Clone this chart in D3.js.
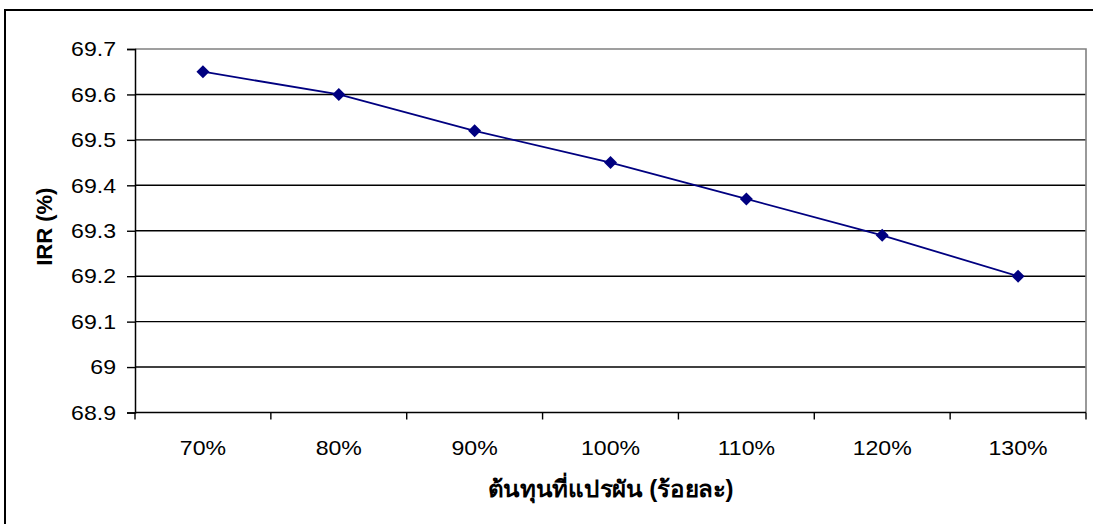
<!DOCTYPE html>
<html>
<head>
<meta charset="utf-8">
<script src="https://cdn.jsdelivr.net/npm/d3@7"></script>
<style>
  html, body { margin: 0; padding: 0; background: #fff; overflow: hidden; }
  svg { display: block; }
  text { font-family: "Liberation Sans", Arial, sans-serif; fill: #000; }
</style>
</head>
<body>
<svg id="chart" width="1093" height="524"></svg>
<script>
// Variable-cost sensitivity: IRR at each cost level
const categories = ["70%", "80%", "90%", "100%", "110%", "120%", "130%"];
const irrValues = [69.65, 69.60, 69.52, 69.45, 69.37, 69.29, 69.20];
const yTicks = [68.9, 69, 69.1, 69.2, 69.3, 69.4, 69.5, 69.6, 69.7];
const xTitle = "ต้นทุนที่แปรผัน (ร้อยละ)";
const yTitle = "IRR (%)";

const svg = d3.select("#chart");
const plot = { left: 135, right: 1086, top: 49, bottom: 412.5 };

// Widen a text element horizontally by a factor, keeping its anchor
function widen(sel, factor) {
  sel.each(function () {
    const w = this.getComputedTextLength();
    d3.select(this)
      .attr("textLength", w * factor)
      .attr("lengthAdjust", "spacingAndGlyphs");
  });
}

// Outer chart frame (top and left edges fall inside the page)
svg.append("path")
  .attr("d", "M1200,10H5V700")
  .attr("fill", "none")
  .attr("stroke", "#000").attr("stroke-width", 2);

const x = d3.scaleBand()
  .domain(categories)
  .range([plot.left, plot.right])
  .paddingInner(0).paddingOuter(0);

const y = d3.scaleLinear()
  .domain([68.9, 69.7])
  .range([plot.bottom, plot.top]);

// Horizontal gridlines
svg.append("g")
  .selectAll("line")
  .data(yTicks.filter(t => t > 68.9 && t < 69.7))
  .join("line")
  .attr("x1", plot.left).attr("x2", plot.right)
  .attr("y1", d => y(d)).attr("y2", d => y(d))
  .attr("stroke", "#000").attr("stroke-width", 1.4);

// Plot-area border (top and right, grey)
svg.append("path")
  .attr("d", `M${plot.left},${y(69.7)}H${plot.right}V${plot.bottom}`)
  .attr("fill", "none")
  .attr("stroke", "#808080").attr("stroke-width", 1.6);

// Y axis
const yAxis = d3.axisLeft(y)
  .tickValues(yTicks)
  .tickFormat(d => d3.format("")(+d.toFixed(1)))
  .tickSize(8).tickPadding(11);
const gy = svg.append("g")
  .attr("transform", `translate(${plot.left},0)`)
  .call(yAxis);
gy.select(".domain").attr("stroke", "#000").attr("stroke-width", 1.5);
gy.selectAll(".tick line").attr("stroke", "#000").attr("stroke-width", 1.4);
gy.selectAll(".tick text")
  .style("font-family", "'Liberation Sans', Arial, sans-serif")
  .style("font-size", "21px").attr("fill", "#000")
  .call(widen, 1.1);

// X axis: ticks sit on category boundaries, labels centred in each band
const boundaries = categories.map(c => x(c)).concat([plot.right]);
const gx = svg.append("g");
gx.append("line")
  .attr("x1", plot.left).attr("x2", plot.right)
  .attr("y1", plot.bottom).attr("y2", plot.bottom)
  .attr("stroke", "#000").attr("stroke-width", 1.5);
gx.selectAll("line.tick")
  .data(boundaries)
  .join("line")
  .attr("class", "tick")
  .attr("x1", d => d).attr("x2", d => d)
  .attr("y1", plot.bottom).attr("y2", plot.bottom + 7)
  .attr("stroke", "#000").attr("stroke-width", 1.4);
gx.selectAll("text")
  .data(categories)
  .join("text")
  .attr("x", d => x(d) + x.bandwidth() / 2)
  .attr("y", 455)
  .attr("text-anchor", "middle")
  .style("font-size", "21px")
  .text(d => d)
  .call(widen, 1.1);

// Series line
const line = d3.line()
  .x((d, i) => x(categories[i]) + x.bandwidth() / 2)
  .y(d => y(d));
svg.append("path")
  .datum(irrValues)
  .attr("d", line)
  .attr("fill", "none")
  .attr("stroke", "#000080").attr("stroke-width", 1.8);

// Diamond markers
const r = 6.5;
svg.append("g")
  .selectAll("path")
  .data(irrValues)
  .join("path")
  .attr("transform", (d, i) => `translate(${x(categories[i]) + x.bandwidth() / 2},${y(d)})`)
  .attr("d", `M0,${-r}L${r},0L0,${r}L${-r},0Z`)
  .attr("fill", "#000080");

// Axis titles
svg.append("text")
  .attr("transform", `translate(52,${(plot.top + plot.bottom) / 2 - 4}) rotate(-90)`)
  .attr("text-anchor", "middle")
  .style("font-size", "22px").style("font-weight", "bold")
  .text(yTitle);

svg.append("text")
  .attr("x", (plot.left + plot.right) / 2)
  .attr("y", 497)
  .attr("text-anchor", "middle")
  .style("font-size", "23px").style("font-weight", "bold")
  .text(xTitle)
  .attr("textLength", 246)
  .attr("lengthAdjust", "spacingAndGlyphs");
</script>
</body>
</html>
